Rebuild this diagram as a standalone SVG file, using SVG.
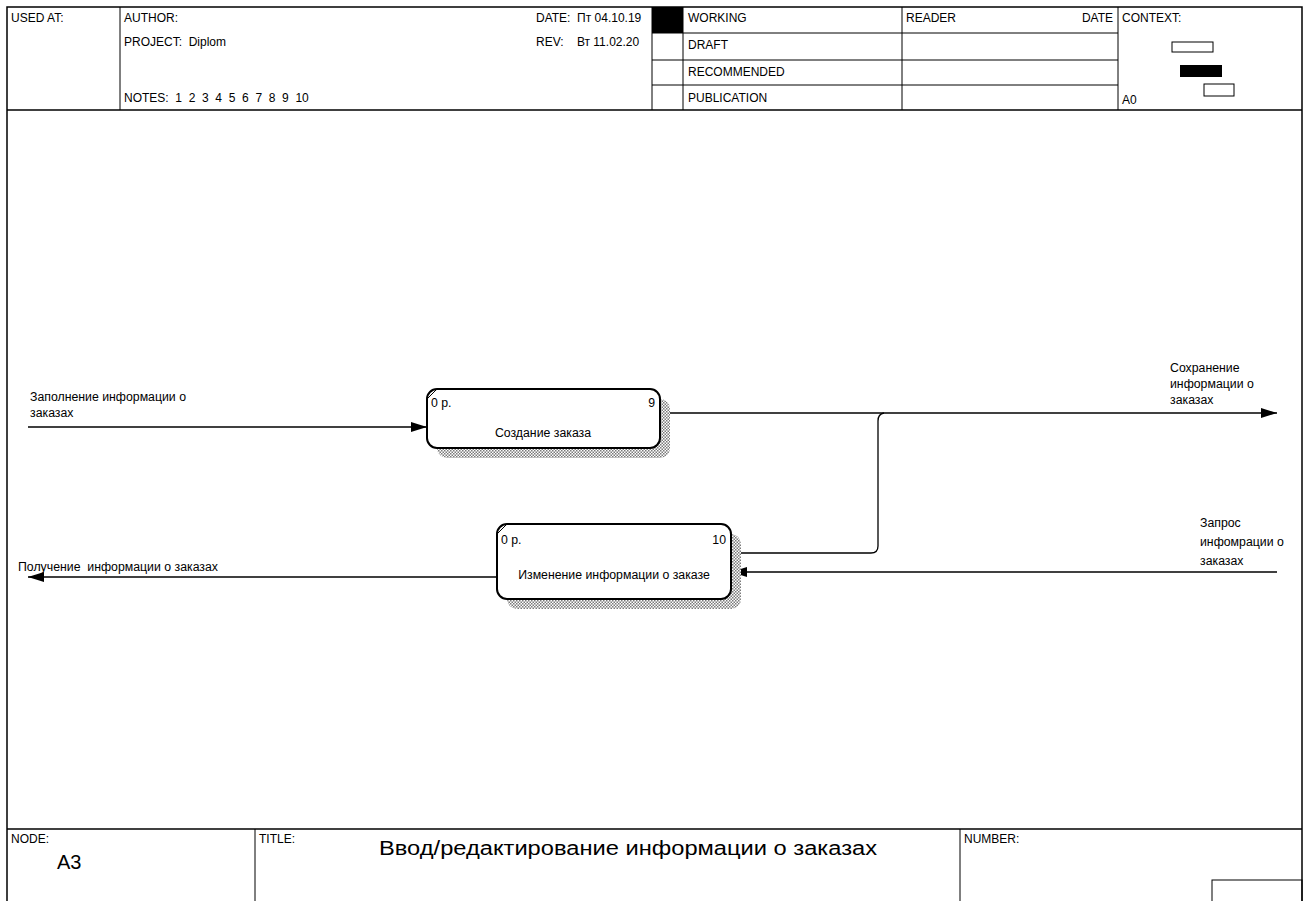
<svg xmlns="http://www.w3.org/2000/svg" width="1306" height="901" viewBox="0 0 1306 901">
<style>
text{font-family:"Liberation Sans",Arial,sans-serif;fill:#000;white-space:pre}
.h{font-size:12px}
.l{font-size:12.3px}
.f{fill:none;stroke:#000;stroke-width:1.5}
.t{fill:none;stroke:#000;stroke-width:1}
.box{fill:#fff;stroke:#000;stroke-width:2}
.sh{fill:url(#hatch);stroke:none}
.c{fill:none;stroke:#000;stroke-width:1.3}
</style>
<defs>
<pattern id="hatch" width="3" height="3" patternUnits="userSpaceOnUse">
<rect width="3" height="3" fill="#fff"/>
<rect width="1.5" height="1.5" fill="#7a7a7a"/>
<rect x="1.5" y="1.5" width="1.5" height="1.5" fill="#7a7a7a"/>
</pattern>
<marker id="ah" viewBox="0 0 16 10" refX="16" refY="5" markerWidth="16" markerHeight="10" markerUnits="userSpaceOnUse" orient="auto">
<path d="M0,0 L16,5 L0,10 Z" fill="#000"/>
</marker>
</defs>
<rect width="1306" height="901" fill="#fff"/>
<g id="frame">
<path class="f" d="M7,910 V7 H1302 V910"/>
<line class="f" x1="7" y1="110" x2="1302" y2="110"/>
<line class="t" x1="120" y1="7" x2="120" y2="110"/>
<line class="t" x1="652" y1="7" x2="652" y2="110"/>
<line class="t" x1="683" y1="7" x2="683" y2="110"/>
<line class="t" x1="902" y1="7" x2="902" y2="110"/>
<line class="t" x1="1118" y1="7" x2="1118" y2="110"/>
<line class="t" x1="652" y1="33" x2="1118" y2="33"/>
<line class="t" x1="652" y1="60" x2="1118" y2="60"/>
<line class="t" x1="652" y1="85" x2="1118" y2="85"/>
<rect x="652" y="7" width="31" height="26" fill="#000"/>
<text class="h" x="11" y="22">USED AT:</text>
<text class="h" x="124" y="22">AUTHOR:</text>
<text class="h" x="124" y="46">PROJECT:  Diplom</text>
<text class="h" x="124" y="102">NOTES:  1  2  3  4  5  6  7  8  9  10</text>
<text class="h" x="536" y="22">DATE:  Пт 04.10.19</text>
<text class="h" x="536" y="46">REV:    Вт 11.02.20</text>
<text class="h" x="688" y="22">WORKING</text>
<text class="h" x="688" y="49">DRAFT</text>
<text class="h" x="688" y="76">RECOMMENDED</text>
<text class="h" x="688" y="102">PUBLICATION</text>
<text class="h" x="906" y="22">READER</text>
<text class="h" x="1113" y="22" text-anchor="end">DATE</text>
<text class="h" x="1122" y="22">CONTEXT:</text>
<text class="h" x="1122" y="104">A0</text>
<rect x="1172" y="42" width="41" height="10" class="t"/>
<rect x="1180" y="65" width="42" height="12" fill="#000"/>
<rect x="1204" y="84" width="30" height="12" class="t"/>
<line class="f" x1="7" y1="829" x2="1302" y2="829"/>
<line class="t" x1="255" y1="829" x2="255" y2="901"/>
<line class="t" x1="960" y1="829" x2="960" y2="901"/>
<rect x="1212" y="880" width="90" height="30" class="t"/>
<text class="h" x="11" y="843">NODE:</text>
<text class="h" x="259" y="843">TITLE:</text>
<text class="h" x="964" y="843">NUMBER:</text>
<text x="379" y="855" font-size="20" textLength="498" lengthAdjust="spacingAndGlyphs">Ввод/редактирование информации о заказах</text>
<text x="57" y="869" font-size="20">A3</text>
</g>
<g id="connectors">
<line class="c" x1="28" y1="427" x2="427" y2="427" marker-end="url(#ah)"/>
<text class="l" x="30" y="401">Заполнение информации о</text>
<text class="l" x="30" y="417">заказах</text>
<line class="c" x1="660" y1="413" x2="1277" y2="413" marker-end="url(#ah)"/>
<text class="l" x="1170" y="372">Сохранение</text>
<text class="l" x="1170" y="388">информации о</text>
<text class="l" x="1170" y="404">заказах</text>
<path class="c" d="M731,553 H871 Q878,553 878,546 V421 Q878,414 884,413"/>
<line class="c" x1="1277" y1="572" x2="731" y2="572" marker-end="url(#ah)"/>
<text class="l" x="1200" y="527">Запрос</text>
<text class="l" x="1200" y="546">инфомрации о</text>
<text class="l" x="1200" y="565">заказах</text>
<line class="c" x1="497" y1="577" x2="28" y2="577" marker-end="url(#ah)"/>
<text class="l" x="18" y="571">Получение  информации о заказах</text>
</g>
<g id="node-9">
<rect class="sh" x="437" y="399" width="233" height="59" rx="10"/>
<rect class="box" x="427" y="389" width="233" height="59" rx="10"/>
<line class="t" x1="428" y1="398" x2="436" y2="390"/>
<text class="l" x="431" y="407">0 р.</text>
<text class="l" x="655" y="407" text-anchor="end">9</text>
<text class="l" x="543" y="437" text-anchor="middle">Создание заказа</text>
</g>
<g id="node-10">
<rect class="sh" x="507" y="534" width="234" height="75" rx="10"/>
<rect class="box" x="497" y="524" width="234" height="75" rx="10"/>
<line class="t" x1="498" y1="533" x2="506" y2="525"/>
<text class="l" x="501" y="544">0 р.</text>
<text class="l" x="726" y="544" text-anchor="end">10</text>
<text class="l" x="614" y="579" text-anchor="middle">Изменение информации о заказе</text>
</g>
</svg>
